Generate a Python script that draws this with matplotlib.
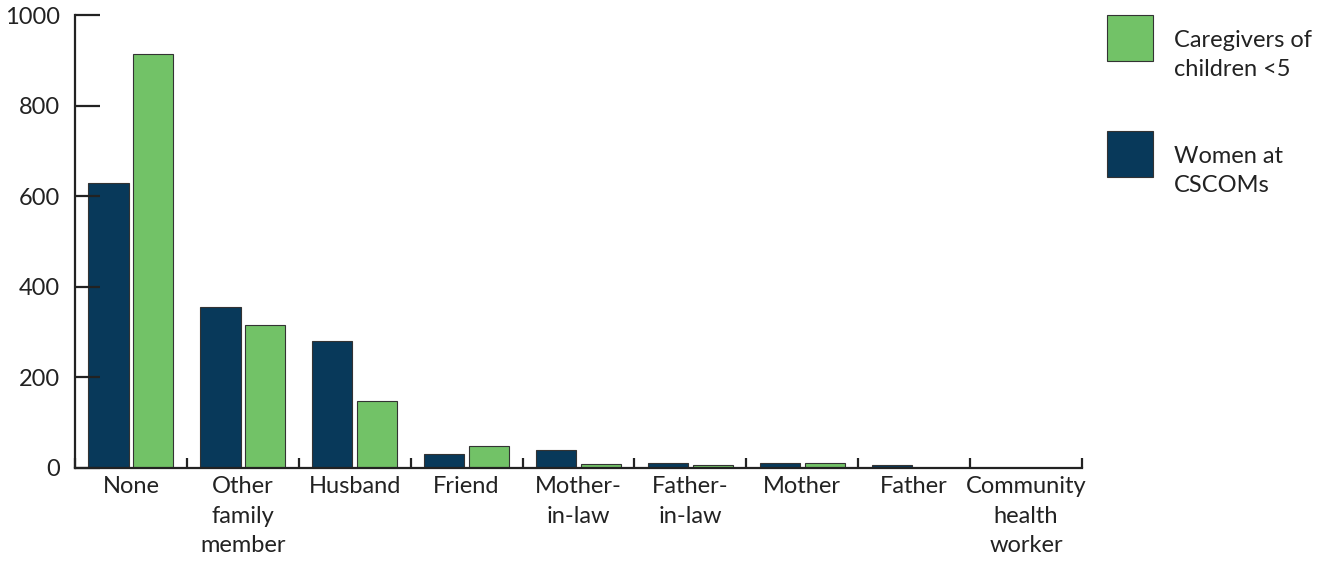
import numpy as np
import matplotlib.pyplot as plt
from matplotlib.patches import Rectangle

# Daten
kategorien = ["None", "Other\nfamily\nmember", "Husband", "Friend", "Mother-\nin-law",
              "Father-\nin-law", "Mother", "Father", "Community\nhealth\nworker"]
frauen_cscom = [629, 355, 280, 30, 39, 12, 12, 7, 0]
betreuer_u5 = [914, 316, 148, 48, 8, 7, 11, 0, 0]
legende = ["Caregivers of\nchildren <5", "Women at\nCSCOMs"]

farbe_dunkel = "#08395A"
farbe_gruen = "#72C267"
textfarbe = "#222222"

plt.rcParams['font.family'] = ['Lato', 'DejaVu Sans']
plt.rcParams['text.color'] = textfarbe

fig = plt.figure(figsize=(13.25, 5.62), dpi=100)
ax = fig.add_axes([0.0566, 0.1673, 0.76, 0.806])

x = np.arange(len(kategorien))
breite = 0.36
ax.bar(x - 0.2, frauen_cscom, breite, color=farbe_dunkel, edgecolor="#333333", linewidth=0.8)
ax.bar(x + 0.2, betreuer_u5, breite, color=farbe_gruen, edgecolor="#333333", linewidth=0.8)

ax.set_xlim(-0.5, len(kategorien) - 0.5)
ax.set_ylim(0, 1000)
ax.set_yticks([0, 200, 400, 600, 800, 1000])
ax.set_xticks(x)
ax.set_xticklabels(kategorien, linespacing=1.5, va="top")
ax.set_xticks(np.arange(-0.5, len(kategorien)), minor=True)

for s in ["top", "right"]:
    ax.spines[s].set_visible(False)
for s in ["left", "bottom"]:
    ax.spines[s].set_color(textfarbe)
    ax.spines[s].set_linewidth(1.6)

ax.tick_params(axis="y", direction="in", length=18, width=1.6, color=textfarbe,
               labelsize=17, labelcolor=textfarbe, pad=11)
ax.tick_params(axis="x", which="major", length=0, labelsize=17, labelcolor=textfarbe, pad=6)
ax.tick_params(axis="x", which="minor", direction="in", length=7, width=1.6, color=textfarbe)

# Legende
for i, (lab, col) in enumerate(zip(legende, [farbe_gruen, farbe_dunkel])):
    y0 = 1 - (15 + i * 116) / 562
    fig.add_artist(Rectangle((1107 / 1325, y0 - 46 / 562), 46 / 1325, 46 / 562,
                             transform=fig.transFigure, facecolor=col,
                             edgecolor="#333333", linewidth=0.8))
    fig.text(1174 / 1325, y0 - 40 / 562, lab, fontsize=17, va="center", ha="left",
             linespacing=1.5, color=textfarbe)

fig.savefig("out.png", dpi=100)
